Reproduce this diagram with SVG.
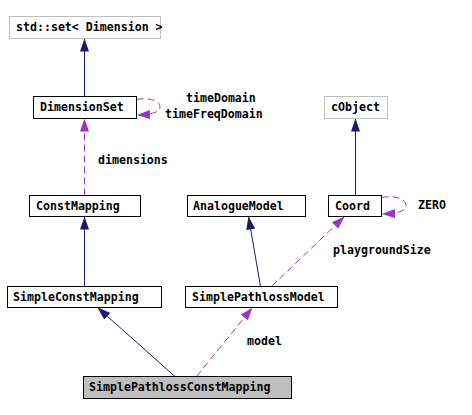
<svg xmlns="http://www.w3.org/2000/svg" width="472" height="415" viewBox="0 0 472 415">
<style>
.box{fill:#fff;stroke:#000;stroke-width:1}
.ext{fill:#fff;stroke:#bfbfbf;stroke-width:1}
.cur{fill:#bfbfbf;stroke:#000;stroke-width:1}
text{font-family:"DejaVu Sans Mono","Liberation Mono",monospace;font-weight:bold;font-size:11.6px;fill:#000}
.inh{fill:none;stroke:#191970;stroke-width:1;marker-end:url(#ab)}
.use{fill:none;stroke:#9a32cd;stroke-width:1;stroke-dasharray:7,4;marker-end:url(#ap)}
</style>
<defs>
<marker id="ab" markerUnits="userSpaceOnUse" markerWidth="14" markerHeight="10" refX="13" refY="5" orient="auto"><path d="M0,0.5 L13,5 L0,9.5 z" fill="#191970"/></marker>
<marker id="ap" markerUnits="userSpaceOnUse" markerWidth="14" markerHeight="10" refX="13" refY="5" orient="auto"><path d="M0,0.5 L13,5 L0,9.5 z" fill="#9a32cd"/></marker>
</defs>
<g id="connectors">
<path class="inh" d="M84.5,96.5 L84.5,38.5"/>
<path class="use" d="M84.5,195.5 L84.5,118.5"/>
<path class="use" d="M136.5,99.5 C150,97 160,101 160,107 C160,112 152,114.5 137,115"/>
<path class="inh" d="M355.5,195.5 L355.5,118.5"/>
<path class="use" d="M381.5,197.5 C395,195 406,199 406,205.5 C406,211 398,213.5 382,214"/>
<path class="inh" d="M84.5,286.5 L84.5,216.5"/>
<path class="inh" d="M260.5,286.5 L248.5,216.5"/>
<path class="use" d="M271.5,286.5 L344.5,216.5"/>
<path class="inh" d="M175,376.5 L97.5,307.5"/>
<path class="use" d="M196.5,376.5 L252.5,307.5"/>
<text x="186" y="102">timeDomain</text>
<text x="165" y="118">timeFreqDomain</text>
<text x="98" y="164">dimensions</text>
<text x="418" y="209">ZERO</text>
<text x="333" y="254">playgroundSize</text>
<text x="247" y="345">model</text>
</g>
<g id="std_set"><rect class="ext" x="9.5" y="16.5" width="151" height="22"/><text x="16" y="31">std::set&lt; Dimension &gt;</text></g>
<g id="DimensionSet"><rect class="box" x="33.5" y="96.5" width="103" height="22"/><text x="40" y="111">DimensionSet</text></g>
<g id="cObject"><rect class="ext" x="324.5" y="96.5" width="63" height="22"/><text x="331" y="111">cObject</text></g>
<g id="ConstMapping"><rect class="box" x="29.5" y="195.5" width="111" height="21"/><text x="36" y="210">ConstMapping</text></g>
<g id="AnalogueModel"><rect class="box" x="187.5" y="195.5" width="118" height="21"/><text x="193" y="210">AnalogueModel</text></g>
<g id="Coord"><rect class="box" x="328.5" y="195.5" width="53" height="21"/><text x="335" y="210">Coord</text></g>
<g id="SimpleConstMapping"><rect class="box" x="7.5" y="286.5" width="154" height="21"/><text x="13" y="301">SimpleConstMapping</text></g>
<g id="SimplePathlossModel"><rect class="box" x="185.5" y="286.5" width="152" height="21"/><text x="192" y="301">SimplePathlossModel</text></g>
<g id="SimplePathlossConstMapping"><rect class="cur" x="83.5" y="376.5" width="208" height="22"/><text x="89" y="391">SimplePathlossConstMapping</text></g>
</svg>
